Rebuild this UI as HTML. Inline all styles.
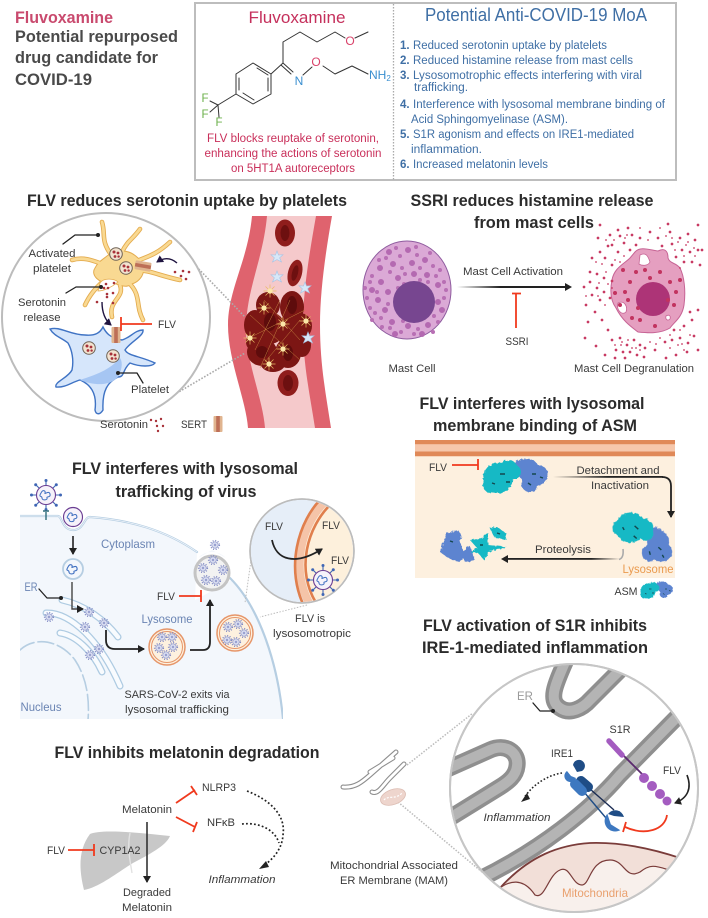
<!DOCTYPE html>
<html><head><meta charset="utf-8">
<style>
html,body{margin:0;padding:0;background:#fff;width:708px;height:918px;overflow:hidden}
svg{display:block}
text{font-family:"Liberation Sans",sans-serif}
.l{font-size:11px;fill:#3a3a3a;text-anchor:middle}
.t{font-size:17px;font-weight:bold;fill:#2b2b2b;text-anchor:middle}
.b{font-size:11.5px;fill:#3f6fa5}
.n{font-weight:bold}
.r{font-size:11.5px;fill:#c92f5a;text-anchor:middle}
.bl{font-size:12px;fill:#6a84b3;text-anchor:middle}
.h{font-size:17px;font-weight:bold;fill:#4a4a4a}
.dot{fill:none;stroke-linecap:round}
.ln{fill:none;stroke-linecap:round;stroke-linejoin:round}
</style></head><body>
<svg width="708" height="918" viewBox="0 0 708 918" xmlns="http://www.w3.org/2000/svg">
<defs>
<marker id="ak" markerWidth="10" markerHeight="10" refX="6" refY="4" orient="auto" markerUnits="userSpaceOnUse"><path d="M0 0L7 4L0 8Z" fill="#222"/></marker>
<marker id="akp" markerWidth="10" markerHeight="10" refX="6" refY="4" orient="auto" markerUnits="userSpaceOnUse"><path d="M0 0L7 4L0 8Z" fill="#1f1440"/></marker>
<linearGradient id="g1" x1="0" x2="1" y1="0" y2="0"><stop offset="0" stop-color="#222" stop-opacity="0"/><stop offset=".4" stop-color="#222"/></linearGradient>
<linearGradient id="g2" x1="0" x2="1" y1="0" y2="0"><stop offset="0" stop-color="#222" stop-opacity="0"/><stop offset=".5" stop-color="#222"/></linearGradient>
<linearGradient id="g3" x1="1" x2="0" y1="0" y2="0"><stop offset="0" stop-color="#222" stop-opacity="0"/><stop offset=".25" stop-color="#222"/></linearGradient>
<filter id="rag" x="-10%" y="-10%" width="120%" height="120%"><feTurbulence type="fractalNoise" baseFrequency=".35" numOctaves="2" seed="4"/><feDisplacementMap in="SourceGraphic" scale="3.5"/></filter>
<g id="v"><circle r="4.4" fill="none" stroke="#8089c4" stroke-width="1.4" stroke-dasharray="1 1.6"/><circle r="3.2" fill="#d8dcf0" stroke="#8f98ca" stroke-width=".6"/><circle r="1.2" fill="#98a0cf"/></g>
<g id="bv"><g stroke="#3f66b5" stroke-width="1.1"><path d="M0-15V15M-15 0H15M-10.6-10.6L10.6 10.6M-10.6 10.6L10.6-10.6"/></g><g fill="#3f66b5"><circle cy="-14.5" r="1.5"/><circle cy="14.5" r="1.5"/><circle cx="-14.5" r="1.5"/><circle cx="14.5" r="1.5"/><circle cx="-10.3" cy="-10.3" r="1.5"/><circle cx="10.3" cy="10.3" r="1.5"/><circle cx="-10.3" cy="10.3" r="1.5"/><circle cx="10.3" cy="-10.3" r="1.5"/></g><circle r="9.5" fill="#f6f2fa" stroke="#6a3d92" stroke-width="1.1"/><path d="M-5-2c2-4 5-2 4 0s4-3 5 1-4 2-3 4-5 3-5 0-4 0-1-5z" fill="none" stroke="#3f6fc0" stroke-width="1"/></g>
<g id="gr"><circle r="6.3" fill="#f2e3d0" stroke="#6f6255" stroke-width="1"/><circle cx="-2" cy="-2" r="1.5" fill="#a8323a"/><circle cx="2" cy="-1" r="1.4" fill="#a8323a"/><circle cx="-1" cy="2.5" r="1.4" fill="#a8323a"/><circle cx="2.6" cy="2.6" r="1.2" fill="#a8323a"/></g>
<g id="st"><path d="M-6.5 0H6.5M0-6.5V6.5M-4.5-4.5L4.5 4.5M-4.5 4.5L4.5-4.5" stroke="#e8bb63" stroke-width=".7"/><circle r="2.6" fill="#fbe7a8"/></g>
<g id="bs"><path d="M0-6L1.5-2 6-2.3 2.6.8 4.5 5 0 2.6-4.5 5-2.6.8-6-2.3-1.5-2Z" fill="#d8e8f8" stroke="#a4c4e6" stroke-width=".6"/></g>
<g id="sert"><rect x="-4.5" y="-8" width="9" height="16" rx="1" fill="#e0b48f"/><rect x="-1.8" y="-8" width="3.6" height="16" fill="#bd6f57"/></g>
<g id="pc"><g filter="url(#rag)"><g fill="#5d84d0"><circle cx="18" cy="-10" r="11"/><circle cx="28" cy="-5" r="10"/><circle cx="20" cy="3" r="9"/><circle cx="11" cy="-15" r="6"/></g><g fill="#18b9c5"><circle cx="-12" cy="-2" r="15"/><circle cx="-2" cy="-10" r="10"/><circle cx="-19" cy="5" r="8"/><circle cx="4" cy="-8" r="7"/></g></g><path d="M-10-6h5M-4 2h4M22-6h4M18 3l3 2M30-3l3 1M-18 3l3 1" stroke="#14484e" stroke-width="1.4"/></g>
<clipPath id="c1"><circle cx="106" cy="317" r="103"/></clipPath>
<clipPath id="c2"><circle cx="302" cy="551" r="51"/></clipPath>
<clipPath id="c3"><circle cx="574" cy="788" r="123"/></clipPath>
<clipPath id="c4"><rect x="20" y="500" width="263" height="219"/></clipPath>
</defs>

<!-- header -->
<text x="15" y="23" class="h" style="fill:#c94a6e" textLength="98" lengthAdjust="spacingAndGlyphs">Fluvoxamine</text>
<text x="15" y="42" class="h" textLength="163" lengthAdjust="spacingAndGlyphs">Potential repurposed</text>
<text x="15" y="63" class="h" textLength="143" lengthAdjust="spacingAndGlyphs">drug candidate for</text>
<text x="15" y="85" class="h" textLength="77" lengthAdjust="spacingAndGlyphs">COVID-19</text>
<rect x="195" y="3" width="481" height="177" fill="#fff" stroke="#bdbdbd" stroke-width="2"/>
<path d="M393.5 4V180" stroke="#aaa" stroke-width="1.3" stroke-dasharray="1.5 1.5"/>
<text x="297" y="23" text-anchor="middle" font-size="17" fill="#c5305c" textLength="97" lengthAdjust="spacingAndGlyphs">Fluvoxamine</text>
<text x="536" y="21" text-anchor="middle" font-size="18" fill="#3f6fa5" textLength="222" lengthAdjust="spacingAndGlyphs">Potential Anti-COVID-19 MoA</text>
<!-- molecule -->
<path class="ln" stroke="#333" stroke-width="1" d="M253 63L271 74V94L253 104L236 94V74ZM257 68L268 75M268 78V91M254 100L243 93M239 78V90M271 74L283 63V42L300 32L317 42L335 32L345 38M355 38L368 32M283 63L293 72M281 65L291 74M303 75L312 67M323 66L335 74L352 66L368 74"/>
<path class="ln" stroke="#333" stroke-width="1" d="M236 94L218 105"/>
<path class="ln" stroke="#333" stroke-width="1" d="M218 105L210 101M218 105L210 112M218 105L219 117"/>
<text x="350" y="45" text-anchor="middle" font-size="12" fill="#d9426a">O</text>
<text x="316" y="66" text-anchor="middle" font-size="12" fill="#d9426a">O</text>
<text x="299" y="85" text-anchor="middle" font-size="12" fill="#3a8fd0">N</text>
<text x="369" y="79" font-size="12" fill="#3a8fd0">NH<tspan font-size="8" dy="2">2</tspan></text>
<text x="205" y="102" text-anchor="middle" font-size="11.5" fill="#6bb04a">F</text>
<text x="205" y="118" text-anchor="middle" font-size="11.5" fill="#6bb04a">F</text>
<text x="219" y="126" text-anchor="middle" font-size="11.5" fill="#6bb04a">F</text>
<text x="293" y="142" class="r" textLength="172" lengthAdjust="spacingAndGlyphs">FLV blocks reuptake of serotonin,</text>
<text x="293" y="157" class="r" textLength="177" lengthAdjust="spacingAndGlyphs">enhancing the actions of serotonin</text>
<text x="293" y="172" class="r" textLength="124" lengthAdjust="spacingAndGlyphs">on 5HT1A autoreceptors</text>
<g class="b">
<text x="400" y="49" class="b n">1.</text><text x="413" y="49" class="b" textLength="194" lengthAdjust="spacingAndGlyphs">Reduced serotonin uptake by platelets</text>
<text x="400" y="64" class="b n">2.</text><text x="413" y="64" class="b" textLength="220" lengthAdjust="spacingAndGlyphs">Reduced histamine release from mast cells</text>
<text x="400" y="79" class="b n">3.</text><text x="413" y="79" class="b" textLength="229" lengthAdjust="spacingAndGlyphs">Lysosomotrophic effects interfering with viral</text>
<text x="414" y="91" class="b" textLength="54" lengthAdjust="spacingAndGlyphs">trafficking.</text>
<text x="400" y="108" class="b n">4.</text><text x="413" y="108" class="b" textLength="252" lengthAdjust="spacingAndGlyphs">Interference with lysosomal membrane binding of</text>
<text x="411" y="123" class="b" textLength="157" lengthAdjust="spacingAndGlyphs">Acid Sphingomyelinase (ASM).</text>
<text x="400" y="138" class="b n">5.</text><text x="413" y="138" class="b" textLength="221" lengthAdjust="spacingAndGlyphs">S1R agonism and effects on IRE1-mediated</text>
<text x="411" y="153" class="b" textLength="71" lengthAdjust="spacingAndGlyphs">inflammation.</text>
<text x="400" y="168" class="b n">6.</text><text x="413" y="168" class="b" textLength="135" lengthAdjust="spacingAndGlyphs">Increased melatonin levels</text>
</g>

<!-- Section 1 -->
<text x="187" y="206" class="t" textLength="320" lengthAdjust="spacingAndGlyphs">FLV reduces serotonin uptake by platelets</text>
<path d="M252 216H332C326 250 320 290 320 325C320 365 326 395 331 428H248C246 400 228 360 228 325C228 290 248 260 252 216Z" fill="#df636e"/>
<path d="M267 216H316C310 250 303 290 303 325C303 365 310 395 315 428H265C263 400 246 360 246 330C246 290 263 260 267 216Z" fill="#f5c9cb"/>
<g fill="#8f1d1c"><ellipse cx="285" cy="233" rx="10" ry="13.5"/><ellipse cx="295" cy="273" rx="7" ry="13.5" transform="rotate(14 295 273)"/><ellipse cx="288" cy="383" rx="10.5" ry="13"/></g>
<g fill="#6d1010"><ellipse cx="285" cy="233" rx="4.5" ry="8"/><ellipse cx="295" cy="273" rx="3" ry="8" transform="rotate(14 295 273)"/><ellipse cx="288" cy="383" rx="5" ry="8"/></g>
<g fill="#7c1614"><ellipse cx="255" cy="325" rx="11" ry="15"/><ellipse cx="268" cy="305" rx="12" ry="13"/><ellipse cx="292" cy="307" rx="12" ry="16"/><ellipse cx="270" cy="328" rx="15" ry="16"/><ellipse cx="300" cy="326" rx="12" ry="13"/><ellipse cx="290" cy="333" rx="12" ry="20"/><ellipse cx="262" cy="352" rx="15" ry="14"/><ellipse cx="288" cy="353" rx="13" ry="15"/><ellipse cx="302" cy="345" rx="9" ry="12"/><ellipse cx="273" cy="362" rx="13" ry="10"/><ellipse cx="254" cy="342" rx="8" ry="9"/></g>
<g fill="#5e0c0c"><ellipse cx="270" cy="322" rx="6" ry="9"/><ellipse cx="292" cy="305" rx="5" ry="9"/><ellipse cx="262" cy="352" rx="6" ry="6"/><ellipse cx="288" cy="353" rx="5" ry="8"/></g>
<g fill="none" stroke="#c98a42" stroke-width=".45"><path d="M250 315L300 360M264 300L300 340M245 340L305 310M260 368L290 300M280 300L255 350M300 320L265 362"/></g>
<use href="#st" x="270" y="291"/><use href="#st" x="264" y="308"/><use href="#st" x="283" y="324"/><use href="#st" x="283" y="349"/><use href="#st" x="269" y="364"/><use href="#st" x="306" y="321"/><use href="#st" x="250" y="338"/>
<use href="#bs" x="277" y="257"/><use href="#bs" x="277" y="277"/><use href="#bs" x="305" y="288"/><use href="#bs" x="308" y="338"/>
<path d="M192 262L245 317M160 403L245 353" stroke="#aaa" stroke-width="1.6" stroke-dasharray="1.6 1.6"/>
<circle cx="106" cy="317" r="104" fill="#fff" stroke="#bcbcbc" stroke-width="2"/>
<!-- activated platelet -->
<g class="ln" stroke="#e4ac4f" stroke-width="4.6"><path d="M102 222C106 235 100 240 112 256M140 229C132 240 128 240 122 252M170 242C155 256 145 257 135 262M180 280C160 276 150 270 135 270M143 320C135 305 142 295 128 282M112 317C108 300 125 298 120 285M85 305C92 290 100 285 106 278M72 260C85 256 96 262 105 265"/></g>
<path d="M107 256C118 248 130 250 138 258C148 266 144 280 132 284C124 290 116 282 108 282C100 284 90 275 95 268C98 262 102 260 107 256Z" fill="#f9d992" stroke="#e4ac4f" stroke-width="1"/>
<g class="ln" stroke="#f9d992" stroke-width="2.8"><path d="M102 222C106 235 100 240 112 256M140 229C132 240 128 240 122 252M170 242C155 256 145 257 135 262M180 280C160 276 150 270 135 270M143 320C135 305 142 295 128 282M112 317C108 300 125 298 120 285M85 305C92 290 100 285 106 278M72 260C85 256 96 262 105 265"/></g>
<path d="M100 283C104 277 115 279 118 282C112 287 104 291 98 291Z" fill="#fff" stroke="#e4ac4f" stroke-width=".8"/>
<use href="#gr" x="116" y="254"/><use href="#gr" x="126" y="268"/>
<g transform="rotate(-80 143 266)"><use href="#sert" x="143" y="266"/></g>
<!-- blue platelet -->
<path d="M50 329C60 326 70 335 85 335C95 336 100 333 103 327C106 333 110 338 122 340C130 338 135 330 143 330C144 336 130 342 125 350C128 356 140 356 155 363C152 367 140 367 130 363C122 370 125 377 118 377C108 382 102 390 103 410C100 415 96 415 95 410C97 395 92 385 80 380C72 382 65 388 56 387C54 382 68 378 72 370C74 360 72 350 68 343C62 338 54 336 50 329Z" fill="#d6e6fb" stroke="#3f73c4" stroke-width="1.4"/>
<path d="M80 380C90 384 108 388 118 377C122 370 123 362 120 358C110 370 95 375 80 380Z" fill="#a6c6f3"/>
<use href="#gr" x="89" y="348"/><use href="#gr" x="113" y="356"/>
<use href="#sert" x="116" y="335"/>
<path class="ln" d="M63 244L75 235H98M66 293L76 287H101M143 383L137 373H118" stroke="#222" stroke-width="1.3"/>
<circle cx="98" cy="235" r="2" fill="#222"/><circle cx="101" cy="287" r="2" fill="#222"/><circle cx="118" cy="373" r="2" fill="#222"/>
<path d="M152 324H121M121 317V331" stroke="#f03a1e" stroke-width="1.8" fill="none"/>
<path d="M177 263C170 257 163 258 157 262" stroke="#1f1440" stroke-width="1.4" fill="none" marker-end="url(#akp)"/>
<path d="M102 302C102 312 105 320 111 325" stroke="#1f1440" stroke-width="1.4" fill="none" marker-end="url(#akp)"/>
<path class="dot" stroke="#a8323a" stroke-width="2.6" d="M175 272h.01M183 271h.01M189 272h.01M181 276h.01M186 279h.01M106 284h.01M104 288h.01M108 288h.01M107 294h.01M113 293h.01M113 303h.01M107 297h.01M114 283h.01M97 302h.01"/>
<text x="52" y="257" class="l" textLength="47" lengthAdjust="spacingAndGlyphs">Activated</text>
<text x="52" y="272" class="l" textLength="38" lengthAdjust="spacingAndGlyphs">platelet</text>
<text x="42" y="306" class="l" textLength="48" lengthAdjust="spacingAndGlyphs">Serotonin</text>
<text x="42" y="321" class="l" textLength="37" lengthAdjust="spacingAndGlyphs">release</text>
<text x="167" y="328" class="l" textLength="18" lengthAdjust="spacingAndGlyphs">FLV</text>
<text x="150" y="393" class="l" textLength="38" lengthAdjust="spacingAndGlyphs">Platelet</text>
<text x="124" y="428" class="l" textLength="48" lengthAdjust="spacingAndGlyphs">Serotonin</text>
<text x="194" y="428" class="l" textLength="26" lengthAdjust="spacingAndGlyphs">SERT</text>
<path class="dot" stroke="#a8323a" stroke-width="2.4" d="M151 420h.01M156 421h.01M161 419h.01M157 426h.01M163 426h.01M158 431h.01"/>
<use href="#sert" x="218" y="424"/>

<!-- Section 2 -->
<text x="532" y="206" class="t" textLength="243" lengthAdjust="spacingAndGlyphs">SSRI reduces histamine release</text>
<text x="534" y="228" class="t" textLength="120" lengthAdjust="spacingAndGlyphs">from mast cells</text>
<ellipse cx="407" cy="290" rx="44" ry="49" fill="#dba9d6" stroke="#8f5c9f" stroke-width="1"/>
<path class="dot" stroke="#b469b1" stroke-width="6" d="M389 252h.01M408 250h.01M425 260h.01M393 264h.01M380 268h.01M412 263h.01M427 275h.01M372 290h.01M378 300h.01M385 310h.01M381 282h.01M392 322h.01M408 326h.01M428 325h.01M422 334h.01M395 334h.01M438 285h.01M398 278h.01M414 274h.01M388 292h.01M442 310h.01M438 302h.01"/>
<path class="dot" stroke="#b86fb4" stroke-width="4" d="M400 256h.01M417 255h.01M433 266h.01M402 268h.01M386 258h.01M372 276h.01M390 272h.01M405 274h.01M377 292h.01M367 298h.01M370 308h.01M381 318h.01M388 304h.01M375 313h.01M401 332h.01M414 334h.01M390 328h.01M433 332h.01M438 322h.01M444 298h.01M444 282h.01M436 276h.01M420 268h.01M398 288h.01M379 260h.01M396 248h.01M416 247h.01M430 253h.01M440 270h.01M446 290h.01M434 316h.01M418 329h.01M403 321h.01M372 320h.01M382 327h.01M365 288h.01M370 282h.01M404 284h.01M428 282h.01M420 280h.01"/>
<circle cx="414" cy="302" r="21" fill="#774690"/>
<text x="412" y="372" class="l" textLength="47" lengthAdjust="spacingAndGlyphs">Mast Cell</text>
<text x="513" y="275" class="l" textLength="100" lengthAdjust="spacingAndGlyphs">Mast Cell Activation</text>
<rect x="457" y="286" width="108" height="2" fill="url(#g1)"/><path d="M565 283L572 287L565 291Z" fill="#222"/>
<path d="M516 293V328M512 293.5H521" stroke="#f03a1e" stroke-width="1.8" fill="none"/>
<text x="517" y="345" class="l" textLength="23" lengthAdjust="spacingAndGlyphs">SSRI</text>
<path d="M635 252C640 246 650 250 658 251C664 248 668 250 668 258C670 264 675 262 680 268C684 276 686 290 684 305C682 318 674 322 670 328C660 334 648 333 638 332C630 326 622 320 616 308C610 300 610 290 612 280C614 268 624 264 630 258Z" fill="#e59fc0" stroke="#c76495" stroke-width="1"/>
<circle cx="653" cy="299" r="17" fill="#ad3477"/>
<path d="M640 255C646 252 648 256 650 262C648 266 642 266 639 264ZM618 303C624 300 628 306 626 312C622 316 616 310 618 303ZM666 316c3-2 5 0 4 3-2 2-5 1-4-3z" fill="#fff" stroke="#c76495" stroke-width=".8"/>
<path class="dot" stroke="#c2335f" stroke-width="4" d="M623 270h.01M636 272h.01M645 270h.01M625 292h.01M615 293h.01M630 282h.01M670 282h.01M676 292h.01M674 305h.01M640 320h.01M655 326h.01M668 300h.01M650 278h.01M620 305h.01M638 308h.01M660 272h.01M632 318h.01M680 280h.01M628 300h.01"/>
<path class="dot" stroke="#c83a63" stroke-width="2.7" d="M605 258h.01M612 245h.01M620 236h.01M624 243h.01M630 250h.01M636 245h.01M618 252h.01M612 265h.01M608 246h.01M598 238h.01M618 230h.01M628 228h.01M600 252h.01M592 258h.01M590 272h.01M597 274h.01M604 278h.01M612 281h.01M590 282h.01M597 288h.01M604 292h.01M584 287h.01M592 295h.01M600 300h.01M586 305h.01M610 298h.01M595 312h.01M588 322h.01M602 320h.01M608 330h.01M585 338h.01M596 346h.01M612 340h.01M620 338h.01M627 345h.01M634 340h.01M640 345h.01M616 350h.01M623 352h.01M630 352h.01M637 355h.01M645 348h.01M625 358h.01M615 358h.01M605 355h.01M644 357h.01M655 350h.01M666 358h.01M676 355h.01M687 352h.01M698 350h.01M665 342h.01M672 340h.01M680 338h.01M688 343h.01M694 336h.01M674 330h.01M684 326h.01M692 320h.01M698 310h.01M690 312h.01M662 246h.01M672 244h.01M680 238h.01M688 234h.01M695 240h.01M682 250h.01M690 252h.01M698 250h.01M676 257h.01M684 262h.01M692 262h.01M700 265h.01M670 232h.01M658 238h.01M650 232h.01M640 238h.01M698 225h.01M668 224h.01M702 250h.01M632 235h.01M610 235h.01M600 225h.01"/>
<path class="dot" stroke="#c83a63" stroke-width="1.8" d="M602 264h.01M615 260h.01M606 272h.01M620 262h.01M627 235h.01M612 288h.01M599 283h.01M605 305h.01M586 296h.01M621 345h.01M632 348h.01M640 350h.01M650 342h.01M660 338h.01M678 345h.01M684 350h.01M666 236h.01M675 250h.01M686 245h.01M680 268h.01M695 256h.01M640 228h.01M648 240h.01M660 228h.01M596 262h.01M608 284h.01M598 296h.01M625 238h.01M614 240h.01M606 240h.01M624 256h.01M615 345h.01M628 340h.01M636 348h.01M622 342h.01M656 344h.01M670 348h.01M682 344h.01M690 335h.01M680 330h.01M670 335h.01M678 242h.01M688 242h.01M694 248h.01M684 256h.01M672 238h.01"/>
<text x="634" y="372" class="l" textLength="120" lengthAdjust="spacingAndGlyphs">Mast Cell Degranulation</text>

<!-- Section 3 -->
<text x="185" y="474" class="t" textLength="226" lengthAdjust="spacingAndGlyphs">FLV interferes with lysosomal</text>
<text x="186" y="497" class="t" textLength="141" lengthAdjust="spacingAndGlyphs">trafficking of virus</text>
<g clip-path="url(#c4)">
<path d="M20 516H58C62 516 62 530 73 530C84 530 84 517 90 517C130 520 165 530 197 552L195 600L232 580C260 610 278 665 283 719H20Z" fill="#f3f7fc"/>
<path class="ln" stroke="#b6cee2" stroke-width="2.2" d="M20 516H58C62 516 62 530 73 530C84 530 84 517 90 517C130 520 165 530 197 552"/>
<path class="ln" stroke="#f3f7fc" stroke-width=".7" d="M20 516H58C62 516 62 530 73 530C84 530 84 517 90 517C130 520 165 530 197 552"/>
<path class="ln" stroke="#b6cee2" stroke-width="2.2" d="M230 578C260 608 278 665 283 719"/>
<path class="ln" stroke="#b6cee2" stroke-width="1.6" stroke-dasharray="16 4" d="M20 650C35 636 60 640 75 660C85 675 90 695 88 720"/>
<g class="ln"><path stroke="#aecbe2" stroke-width="7" d="M62 600C85 605 105 620 118 637"/><path stroke="#f8fbfe" stroke-width="4.5" d="M62 600C85 605 105 620 118 637"/><path stroke="#aecbe2" stroke-width="7" d="M46 613C70 612 100 640 120 686"/><path stroke="#f8fbfe" stroke-width="4.5" d="M46 613C70 612 100 640 120 686"/><path stroke="#aecbe2" stroke-width="7" d="M60 633C75 635 92 650 102 672"/><path stroke="#f8fbfe" stroke-width="4.5" d="M60 633C75 635 92 650 102 672"/></g>
</g>
<use href="#bv" x="46" y="495"/>
<path d="M46 512V520M43 511h6" stroke="#2f6d7a" stroke-width="1.4" fill="none"/>
<g transform="translate(73 517) scale(.95)"><circle r="10" fill="#f6f2fa" stroke="#6a3d92" stroke-width="1.2"/><path d="M-5-2c2-4 5-2 4 0s4-3 5 1-4 2-3 4-5 3-5 0-4 0-1-5z" fill="none" stroke="#3f6fc0" stroke-width="1.1"/></g>
<path d="M73 536V554" stroke="#222" stroke-width="1.6" marker-end="url(#ak)" fill="none"/>
<circle cx="73" cy="569" r="10" fill="#f3f7fc" stroke="#b6cee2" stroke-width="1.8"/>
<path d="M68 567c2-4 5-2 4 0s4-3 5 1-4 2-3 4-5 3-5 0-4 0-1-5z" fill="none" stroke="#3f6fc0" stroke-width="1.1"/>
<path d="M72 582V609H83" stroke="#444" stroke-width="1.4" fill="none" marker-end="url(#ak)"/>
<path class="ln" d="M39 589L47 598H61" stroke="#222" stroke-width="1.3"/><circle cx="61" cy="598" r="2" fill="#222"/>
<use href="#v" x="49" y="617"/><use href="#v" x="89" y="612"/><use href="#v" x="85" y="627"/><use href="#v" x="104" y="623"/><use href="#v" x="90" y="655"/><use href="#v" x="99" y="649"/>
<path d="M106 630V640Q106 649 115 649H144" stroke="#222" stroke-width="1.8" fill="none" marker-end="url(#ak)"/>
<circle cx="167" cy="647" r="18" fill="#fdf1df" stroke="#e6966a" stroke-width="1.5"/><circle cx="167" cy="647" r="15.5" fill="none" stroke="#e6966a" stroke-width="1"/>
<use href="#v" x="162" y="637"/><use href="#v" x="172" y="637"/><use href="#v" x="159" y="648"/><use href="#v" x="173" y="647"/><use href="#v" x="166" y="655"/>
<circle cx="235" cy="633" r="18" fill="#fdf1df" stroke="#e6966a" stroke-width="1.5"/><circle cx="235" cy="633" r="15.5" fill="none" stroke="#e6966a" stroke-width="1"/>
<use href="#v" x="228" y="627"/><use href="#v" x="238" y="624"/><use href="#v" x="244" y="633"/><use href="#v" x="227" y="640"/><use href="#v" x="236" y="642"/>
<path d="M190 650H203Q210 650 210 642V600" stroke="#222" stroke-width="1.8" fill="none" marker-end="url(#ak)"/>
<path d="M179 596H201M201 590V602" stroke="#f03a1e" stroke-width="1.8" fill="none"/>
<circle cx="212" cy="573" r="17" fill="#f2f2f2" stroke="#c4c4c4" stroke-width="3"/>
<path d="M198 558A19 19 0 0 1 226 558L212 550Z" fill="#f3f7fc"/>
<use href="#v" x="215" y="545"/><use href="#v" x="213" y="560"/><use href="#v" x="203" y="568"/><use href="#v" x="223" y="570"/><use href="#v" x="206" y="580"/><use href="#v" x="216" y="581"/>
<path d="M252 553L245 603M307 605L260 617" stroke="#bdbdbd" stroke-width="1" stroke-dasharray="1.5 1.5" fill="none"/>
<circle cx="302" cy="551" r="52" fill="#e6eef8" stroke="#bcbcbc" stroke-width="1.5"/>
<g clip-path="url(#c2)"><path d="M327 495C300 520 295 570 316 610L360 610V495Z" fill="#fdf0dc"/><path d="M327 500C302 522 288 570 312 608" fill="none" stroke="#f5c4a8" stroke-width="8"/><path d="M331 504C308 526 294 570 318 606M323 497C298 520 284 570 306 610" fill="none" stroke="#e07f4d" stroke-width="2.6"/></g>
<circle cx="302" cy="551" r="52" fill="none" stroke="#bcbcbc" stroke-width="1.5"/>
<path d="M272 540C276 560 295 566 322 549" stroke="#222" stroke-width="1.8" fill="none" marker-end="url(#ak)"/>
<use href="#bv" x="323" y="580"/>
<text x="274" y="530" class="l" textLength="18" lengthAdjust="spacingAndGlyphs">FLV</text>
<text x="331" y="529" class="l" textLength="18" lengthAdjust="spacingAndGlyphs">FLV</text>
<text x="340" y="564" class="l" textLength="18" lengthAdjust="spacingAndGlyphs">FLV</text>
<text x="128" y="548" class="bl" textLength="54" lengthAdjust="spacingAndGlyphs">Cytoplasm</text>
<text x="31" y="591" class="bl" textLength="13" lengthAdjust="spacingAndGlyphs">ER</text>
<text x="41" y="711" class="bl" textLength="41" lengthAdjust="spacingAndGlyphs">Nucleus</text>
<text x="167" y="623" class="bl" textLength="51" lengthAdjust="spacingAndGlyphs">Lysosome</text>
<text x="166" y="600" class="l" textLength="18" lengthAdjust="spacingAndGlyphs">FLV</text>
<text x="310" y="622" class="l" textLength="30" lengthAdjust="spacingAndGlyphs">FLV is</text>
<text x="312" y="637" class="l" textLength="78" lengthAdjust="spacingAndGlyphs">lysosomotropic</text>
<text x="177" y="698" class="l" textLength="105" lengthAdjust="spacingAndGlyphs">SARS-CoV-2 exits via</text>
<text x="177" y="713" class="l" textLength="104" lengthAdjust="spacingAndGlyphs">lysosomal trafficking</text>

<!-- Section 4 -->
<text x="532" y="409" class="t" textLength="225" lengthAdjust="spacingAndGlyphs">FLV interferes with lysosomal</text>
<text x="535" y="431" class="t" textLength="204" lengthAdjust="spacingAndGlyphs">membrane binding of ASM</text>
<rect x="415" y="440" width="260" height="138" fill="#fdf0df"/>
<rect x="415" y="440" width="260" height="16.5" fill="#f6c7ab"/>
<rect x="415" y="440" width="260" height="4.2" fill="#e08958"/><rect x="415" y="451.5" width="260" height="4.6" fill="#e08958"/>
<text x="438" y="471" class="l" textLength="18" lengthAdjust="spacingAndGlyphs">FLV</text>
<path d="M452 465H478M478 459V470" stroke="#f03a1e" stroke-width="1.8" fill="none"/>
<use href="#pc" x="510" y="480"/>
<g transform="translate(638 537) rotate(42)"><use href="#pc"/></g>
<g filter="url(#rag)"><g fill="#5d84d0"><path d="M447 533L458 530L462 536L460 541L465 558L458 562L448 558L440 552L443 542Z"/><path d="M461 552L470 546L475 560L465 562Z"/></g>
<g fill="#18b9c5"><path d="M470 540L482 538L488 532L488 545L507 547L488 552L484 560L478 553L470 552L477 548Z"/><path d="M490 528L497 527L507 534L505 540L494 537Z"/></g></g>
<path d="M450 541l3 1M480 545h3M497 533l3 1" stroke="#14484e" stroke-width="1.4"/>
<text x="618" y="474" class="l" textLength="83" lengthAdjust="spacingAndGlyphs">Detachment and</text>
<text x="620" y="489" class="l" textLength="58" lengthAdjust="spacingAndGlyphs">Inactivation</text>
<rect x="553" y="476" width="110" height="1.8" fill="url(#g2)"/>
<path d="M662 477Q671 477 671 486V517" stroke="#222" stroke-width="1.8" fill="none" marker-end="url(#ak)"/>
<text x="563" y="553" class="l" textLength="56" lengthAdjust="spacingAndGlyphs">Proteolysis</text>
<rect x="505" y="558" width="115" height="1.8" fill="url(#g3)"/><path d="M619 559.5Q624 558 623 549" stroke="#aaa" stroke-width="1.6" fill="none"/>
<path d="M508 555L501 559L508 563Z" fill="#222"/>
<text x="648" y="573" text-anchor="middle" font-size="12" fill="#ea9a4e" textLength="51" lengthAdjust="spacingAndGlyphs">Lysosome</text>
<text x="626" y="595" class="l" textLength="23" lengthAdjust="spacingAndGlyphs">ASM</text>
<g transform="translate(654 592) scale(.5)"><use href="#pc"/></g>

<!-- Section 5 -->
<text x="187" y="758" class="t" textLength="265" lengthAdjust="spacingAndGlyphs">FLV inhibits melatonin degradation</text>
<path d="M90 834C100 830 125 831 170 836C166 846 148 855 133 863C118 872 100 887 84 890C79 870 78 850 90 834Z" fill="#c8c8c8"/>
<path d="M130 833C127 848 130 860 132 873" stroke="#e2e2e2" stroke-width="1.4" fill="none"/>
<text x="147" y="813" class="l" textLength="50" lengthAdjust="spacingAndGlyphs">Melatonin</text>
<text x="219" y="791" class="l" textLength="34" lengthAdjust="spacingAndGlyphs">NLRP3</text>
<text x="221" y="826" class="l" textLength="28" lengthAdjust="spacingAndGlyphs">NFκB</text>
<path d="M176 803L195 790M191 786L197 795M176 817L195 827M197 822L193 832" stroke="#f03a1e" stroke-width="1.8" fill="none"/>
<path d="M247 791C270 800 286 815 283 835C282 850 272 860 263 866" stroke="#222" stroke-width="1.7" stroke-dasharray="1.8 2.2" fill="none"/>
<path d="M242 824C260 822 275 830 279 843" stroke="#222" stroke-width="1.7" stroke-dasharray="1.8 2.2" fill="none"/>
<path d="M266 861L259 869L269 867Z" fill="#222"/>
<text x="242" y="883" class="l" font-style="italic" textLength="67" lengthAdjust="spacingAndGlyphs">Inflammation</text>
<text x="56" y="854" class="l" textLength="18" lengthAdjust="spacingAndGlyphs">FLV</text>
<path d="M68 850H94M94 844V856" stroke="#f03a1e" stroke-width="1.8" fill="none"/>
<text x="120" y="854" class="l" textLength="41" lengthAdjust="spacingAndGlyphs">CYP1A2</text>
<path d="M147 822V882" stroke="#333" stroke-width="1.6" fill="none" marker-end="url(#ak)"/>
<text x="147" y="896" class="l" textLength="48" lengthAdjust="spacingAndGlyphs">Degraded</text>
<text x="147" y="911" class="l" textLength="50" lengthAdjust="spacingAndGlyphs">Melatonin</text>

<!-- Section 6 -->
<text x="535" y="631" class="t" textLength="224" lengthAdjust="spacingAndGlyphs">FLV activation of S1R inhibits</text>
<text x="535" y="653" class="t" textLength="226" lengthAdjust="spacingAndGlyphs">IRE-1-mediated inflammation</text>
<path d="M407 765L473 713M398 802L482 872" stroke="#bbb" stroke-width="1.5" stroke-dasharray="1.5 1.5" fill="none"/>
<g class="ln"><path stroke="#8e8e8e" stroke-width="5" d="M343 787C355 788 362 782 370 775L396 752M370 772L393 758M372 792C378 795 383 785 390 778L404 764"/><path stroke="#fff" stroke-width="2.8" d="M343 787C355 788 362 782 370 775L396 752M370 772L393 758M372 792C378 795 383 785 390 778L404 764"/></g>
<ellipse cx="393" cy="797" rx="13" ry="7.5" fill="#eed5cd" stroke="#dcbdb3" stroke-width=".8" transform="rotate(-20 393 797)"/>
<path d="M384 800C388 795 396 800 402 793" stroke="#fff" stroke-width="1.2" fill="none" stroke-dasharray="2 1.5"/>
<text x="394" y="869" class="l" textLength="128" lengthAdjust="spacingAndGlyphs">Mitochondrial Associated</text>
<text x="394" y="884" class="l" textLength="108" lengthAdjust="spacingAndGlyphs">ER Membrane (MAM)</text>
<circle cx="574" cy="788" r="124" fill="#fff" stroke="#c6c6c6" stroke-width="2"/>
<g clip-path="url(#c3)">
<path d="M500 888C530 855 560 845 590 843C620 842 650 848 680 858V920H490Z" fill="#f2dfd8"/>
<path d="M490 897C510 875 525 880 535 895C545 900 548 875 560 870C570 865 572 885 582 885C590 885 590 860 610 860C625 860 625 880 640 872C655 860 660 870 690 875V920H490Z" fill="#f8f0ec" stroke="#7a3c3a" stroke-width="1.2"/>
<path d="M500 888C530 855 560 845 590 843C620 842 650 848 680 858" fill="none" stroke="#7a3c3a" stroke-width="1.8"/>
<g class="ln" style="stroke-linecap:butt"><path stroke="#8f8f8f" stroke-width="17" d="M566 660C555 685 548 700 560 708C570 715 583 708 590 700L622 668"/><path stroke="#b4b4b4" stroke-width="10" d="M566 660C555 685 548 700 560 708C570 715 583 708 590 700L622 668"/>
<path stroke="#8f8f8f" stroke-width="17" d="M445 770L490 750C505 743 519 752 517 766C516 776 508 782 500 787L445 821"/><path stroke="#b4b4b4" stroke-width="10" d="M445 770L490 750C505 743 519 752 517 766C516 776 508 782 500 787L445 821"/>
<path stroke="#8f8f8f" stroke-width="17" d="M478 880C540 850 590 810 620 775L682 712"/><path stroke="#b4b4b4" stroke-width="10" d="M478 880C540 850 590 810 620 775L682 712"/></g>
</g>
<circle cx="574" cy="788" r="124" fill="none" stroke="#c6c6c6" stroke-width="2"/>
<path class="ln" d="M533 703L540 711H553" stroke="#222" stroke-width="1.3"/><circle cx="553" cy="711" r="2" fill="#222"/>
<!-- S1R -->
<path d="M623 755L645 777" stroke="#5b2a6e" stroke-width="1.8"/>
<path d="M609 741L622 755" stroke="#a45cc0" stroke-width="5.5" stroke-linecap="round"/>
<g fill="#a45cc0"><circle cx="644" cy="778" r="5"/><circle cx="652" cy="786" r="5"/><circle cx="660" cy="794" r="5"/><circle cx="667" cy="801" r="4.5"/></g>
<!-- IRE1 -->
<path d="M584 792L606 818" stroke="#1f4d86" stroke-width="1.4"/><path d="M590 789L614 810" stroke="#1a2b52" stroke-width="1.4"/>
<path d="M581 781L588 787" stroke="#1f4d86" stroke-width="10" stroke-linecap="round"/>
<path d="M575 784L582 791" stroke="#3d78c0" stroke-width="10" stroke-linecap="round"/>
<path d="M573 765A6 6 0 1 1 582 771L577 772Z" fill="#1f4d86"/>
<path d="M567 771A6 6 0 1 0 576 778L571 776Z" fill="#3d78c0"/>
<path d="M608 814A9 9 0 0 1 624 817L614 816Z" fill="#1f4d86"/>
<path d="M607 816A9.5 9.5 0 0 0 618 830L610 825Z" fill="#3d78c0" stroke="#3d78c0" stroke-width="2"/>
<path d="M562 773C548 775 532 785 524 798" stroke="#222" stroke-width="1.6" stroke-dasharray="1.6 2" fill="none"/>
<path d="M527 793L521 802L530 799Z" fill="#222"/>
<path d="M687 775C692 788 688 798 675 803" stroke="#222" stroke-width="1.6" fill="none" marker-end="url(#ak)"/>
<path d="M667 815C665 830 645 836 625 827M626 822L623 832" stroke="#f03a1e" stroke-width="1.8" fill="none"/>
<text x="525" y="700" text-anchor="middle" font-size="11.5" fill="#9a9a9a">ER</text>
<text x="620" y="733" class="l" textLength="21" lengthAdjust="spacingAndGlyphs">S1R</text>
<text x="562" y="757" class="l" textLength="22" lengthAdjust="spacingAndGlyphs">IRE1</text>
<text x="672" y="774" class="l" textLength="18" lengthAdjust="spacingAndGlyphs">FLV</text>
<text x="517" y="821" class="l" font-style="italic" textLength="67" lengthAdjust="spacingAndGlyphs">Inflammation</text>
<text x="595" y="897" text-anchor="middle" font-size="12" fill="#e9a06e" textLength="66" lengthAdjust="spacingAndGlyphs">Mitochondria</text>
</svg>
</body></html>
